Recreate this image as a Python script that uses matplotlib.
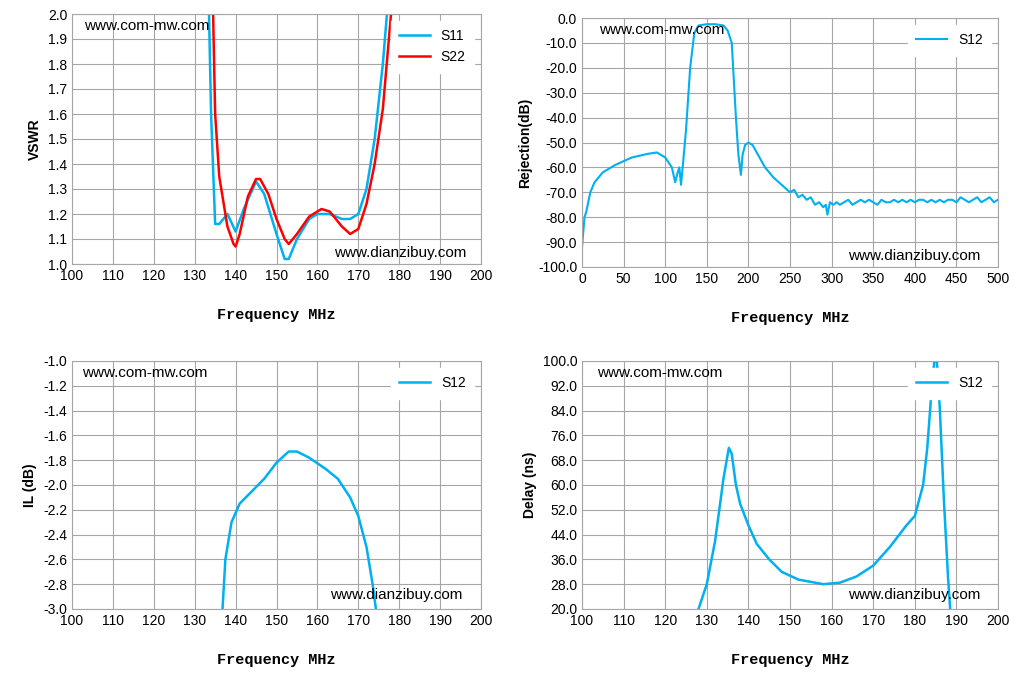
import numpy as np
import matplotlib.pyplot as plt
from matplotlib.ticker import FormatStrFormatter

# 设置全局字体
plt.rcParams['font.family'] = ['Liberation Sans', 'DejaVu Sans']
plt.rcParams['font.size'] = 10
plt.rcParams['axes.unicode_minus'] = False  # 正常显示负号

blue = '#00B0F0'
red = '#FF0000'

# 驻波数据
s11_f = [133.5, 134, 135, 136, 138, 140, 142, 145, 147, 150, 152, 153, 155, 158, 160, 163, 166, 168, 170, 172, 174, 176, 177]
s11_v = [2.0, 1.6, 1.16, 1.16, 1.2, 1.13, 1.22, 1.33, 1.28, 1.12, 1.02, 1.02, 1.1, 1.18, 1.2, 1.2, 1.18, 1.18, 1.2, 1.3, 1.5, 1.8, 2.0]
s22_f = [134.5, 135, 136, 138, 139.5, 140, 141, 143, 145, 146, 148, 150, 152, 153, 155, 158, 161, 163, 166, 168, 170, 172, 174, 176, 178]
s22_v = [2.0, 1.6, 1.35, 1.15, 1.08, 1.07, 1.12, 1.27, 1.34, 1.34, 1.28, 1.18, 1.1, 1.08, 1.12, 1.19, 1.22, 1.21, 1.15, 1.12, 1.14, 1.24, 1.4, 1.62, 2.0]

# 抑制数据
rej_f = [0, 3, 5, 10, 15, 25, 40, 60, 80, 90, 100, 108, 112, 115, 117, 119, 121, 125, 130, 135, 140, 150, 160, 170,
         175, 180, 185, 188, 191, 193, 196, 200, 205, 210, 220, 230, 240, 250, 255, 260, 265, 270, 275, 280, 285, 290,
         293, 295, 298, 302, 306, 310, 315, 320, 325, 330, 335, 340, 345, 350, 355, 360, 365, 370, 375, 380, 385, 390,
         395, 400, 405, 410, 415, 420, 425, 430, 435, 440, 445, 450, 455, 460, 465, 470, 475, 480, 485, 490, 495, 500]
rej_v = [-92, -80, -78, -70, -66, -62, -59, -56, -54.5, -54, -56, -60, -66, -62, -60, -67, -60, -45, -20, -6, -3, -2.5,
         -2.5, -3, -5, -10, -40, -55, -63, -55, -51, -50, -51, -54, -60, -64, -67, -70, -69, -72, -71, -73, -72, -75,
         -74, -76, -75, -79, -74, -75, -74, -75, -74, -73, -75, -74, -73, -74, -73, -74, -75, -73, -74, -74, -73, -74,
         -73, -74, -73, -74, -73, -73, -74, -73, -74, -73, -74, -73, -73, -74, -72, -73, -74, -73, -72, -74, -73, -72,
         -74, -73]

# 插损数据
il_f = [136.8, 137.5, 139, 141, 144, 147, 150, 153, 155, 158, 162, 165, 168, 170, 172, 173.5, 174.3]
il_v = [-3.0, -2.6, -2.3, -2.15, -2.05, -1.95, -1.82, -1.73, -1.73, -1.78, -1.87, -1.95, -2.1, -2.25, -2.5, -2.8, -3.0]

# 群时延数据
dl_f = [128, 130, 132, 134, 135.3, 136, 137, 138, 140, 142, 145, 148, 152, 158, 162, 166, 170, 174, 178, 180, 182, 183,
        184, 184.7, 185.3, 186, 187, 188, 188.5]
dl_v = [20, 28, 42, 62, 72, 70, 60, 54, 47, 41, 36, 32, 29.5, 28, 28.5, 30.5, 34, 40, 47, 50, 60, 72, 90, 100, 100, 85,
        55, 30, 20]

fig = plt.figure(figsize=(10.22, 6.76), dpi=100)
ax1 = fig.add_axes([72/1022, 1-264/676, 409/1022, 250/676])
ax2 = fig.add_axes([582/1022, 1-267/676, 416/1022, 249/676])
ax3 = fig.add_axes([72/1022, 1-609/676, 409/1022, 248/676])
ax4 = fig.add_axes([582/1022, 1-609/676, 416/1022, 248/676])

xfont = dict(family='Liberation Mono', weight='bold', fontsize=11)


def style(ax, ylabel, fmt):
    ax.grid(True, color='#A6A6A6', lw=0.8)
    ax.set_axisbelow(True)
    for s in ax.spines.values():
        s.set_color('#A6A6A6')
    ax.tick_params(length=0, labelsize=10)
    ax.yaxis.set_major_formatter(FormatStrFormatter(fmt))
    ax.set_xlabel('Frequency MHz', labelpad=18, **xfont)
    ax.set_ylabel(ylabel, fontweight='bold', fontsize=10)


# 驻波
ax1.plot(s11_f, s11_v, color=blue, lw=1.8, label='S11')
ax1.plot(s22_f, s22_v, color=red, lw=1.8, label='S22')
ax1.set_xlim(100, 200)
ax1.set_ylim(1.0, 2.0)
ax1.set_xticks(np.arange(100, 201, 10))
ax1.set_yticks(np.arange(1.0, 2.01, 0.1))
style(ax1, 'VSWR', '%.1f')
ax1.text(0.03, 0.95, 'www.com-mw.com', transform=ax1.transAxes, fontsize=11, va='center')
ax1.text(0.64, 0.045, 'www.dianzibuy.com', transform=ax1.transAxes, fontsize=11, va='center')

# 抑制
ax2.plot(rej_f, rej_v, color=blue, lw=1.5, label='S12')
ax2.set_xlim(0, 500)
ax2.set_ylim(-100, 0)
ax2.set_xticks(np.arange(0, 501, 50))
ax2.set_yticks(np.arange(-100, 1, 10))
style(ax2, 'Rejection(dB)', '%.1f')
ax2.text(0.04, 0.95, 'www.com-mw.com', transform=ax2.transAxes, fontsize=11, va='center')
ax2.text(0.64, 0.045, 'www.dianzibuy.com', transform=ax2.transAxes, fontsize=11, va='center')

# 插损
ax3.plot(il_f, il_v, color=blue, lw=1.8, label='S12')
ax3.set_xlim(100, 200)
ax3.set_ylim(-3.0, -1.0)
ax3.set_xticks(np.arange(100, 201, 10))
ax3.set_yticks(np.arange(-3.0, -0.99, 0.2))
style(ax3, 'IL (dB)', '%.1f')
ax3.text(0.025, 0.95, 'www.com-mw.com', transform=ax3.transAxes, fontsize=11, va='center')
ax3.text(0.63, 0.055, 'www.dianzibuy.com', transform=ax3.transAxes, fontsize=11, va='center')

# 群时延
ax4.plot(dl_f, dl_v, color=blue, lw=1.8, label='S12')
ax4.set_xlim(100, 200)
ax4.set_ylim(20, 100)
ax4.set_xticks(np.arange(100, 201, 10))
ax4.set_yticks(np.arange(20, 100.1, 8))
style(ax4, 'Delay (ns)', '%.1f')
ax4.text(0.035, 0.95, 'www.com-mw.com', transform=ax4.transAxes, fontsize=11, va='center')
ax4.text(0.64, 0.055, 'www.dianzibuy.com', transform=ax4.transAxes, fontsize=11, va='center')

for ax in (ax1, ax2, ax3, ax4):
    leg = ax.legend(loc='upper right', frameon=True, framealpha=1, edgecolor='white', fontsize=10,
                    handlelength=2.2, fancybox=False, borderpad=0.6)

fig.savefig('out.png', dpi=100)
